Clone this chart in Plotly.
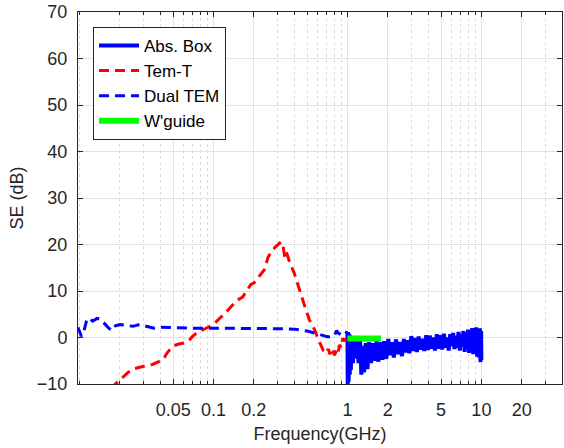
import plotly.graph_objects as go

# ---------------- data ----------------
abs_f = [1.00, 1.005, 1.01, 1.02, 1.03, 1.04, 1.05, 1.06, 1.08, 1.10, 1.12, 1.15, 1.18, 1.21,
         1.24, 1.27, 1.30, 1.33, 1.37, 1.41, 1.45, 1.50, 1.55, 1.60, 1.65, 1.70, 1.76, 1.82,
         1.88, 1.95, 2.02, 2.08, 2.15, 2.22, 2.30, 2.38, 2.46, 2.55, 2.64, 2.72, 2.80, 2.90,
         3.00, 3.10, 3.20, 3.30, 3.40, 3.50, 3.62, 3.75, 3.88, 4.00, 4.12, 4.25, 4.38, 4.50,
         4.65, 4.80, 4.95, 5.10, 5.25, 5.40, 5.55, 5.70, 5.85, 6.00, 6.15, 6.30, 6.45, 6.60,
         6.75, 6.90, 7.05, 7.20, 7.35, 7.50, 7.65, 7.80, 7.95, 8.10, 8.25, 8.40, 8.55, 8.70,
         8.85, 9.00, 9.15, 9.30, 9.45, 9.60, 9.75, 9.85, 9.95, 10.0]
abs_v = [1.0, -11.0, 1.2, -9.5, 0.8, -8.0, 0.5, -7.0, 0.3, -5.5, 0.2, -4.5, -0.8, -5.5,
         -0.3, -8.0, -1.8, -7.5, -1.2, -6.8, -1.0, -5.5, -1.2, -5.0, -0.8, -5.2, -1.0, -4.8,
         -0.8, -4.6, -0.3, -3.8, -1.0, -4.3, -0.4, -3.6, -1.0, -4.0, -0.3, -3.2, -0.6, -3.4,
         0.3, -2.9, -0.1, -3.1, 0.2, -2.6, -0.3, -2.9, 0.5, -2.7, 0.4, -2.4, 0.0, -2.8,
         0.7, -2.4, 0.5, -2.6, 0.8, -2.2, 0.0, -2.8, 0.7, -1.9, 1.0, -2.5, 0.4, -2.2,
         1.2, -2.8, 0.7, -1.9, 1.4, -3.1, 1.0, -2.4, 1.7, -3.3, 1.2, -2.6, 2.0, -3.6,
         1.4, -3.3, 2.2, -4.1, 1.7, -4.3, 2.0, -5.3, 1.4, -4.8]

temt_f = [0.017, 0.0185, 0.021, 0.023, 0.025, 0.028, 0.031, 0.035, 0.039, 0.042, 0.045,
          0.050, 0.055, 0.060, 0.065, 0.070, 0.075, 0.080, 0.090, 0.100, 0.110, 0.120,
          0.135, 0.150, 0.165, 0.180, 0.190, 0.200, 0.220, 0.240, 0.255, 0.270, 0.290,
          0.310, 0.320, 0.330, 0.340, 0.350, 0.370, 0.400, 0.430, 0.460, 0.490, 0.520,
          0.570, 0.600, 0.630, 0.660, 0.690, 0.720, 0.740, 0.770, 0.800, 0.830, 0.850,
          0.870, 0.900, 0.920, 0.950, 0.980, 1.000]
temt_v = [-11.0, -10.0, -8.5, -7.5, -6.8, -6.4, -6.1, -5.8, -5.3, -4.8, -3.3,
          -1.8, -1.4, -1.2, -0.8, 0.3, 1.0, 1.4, 2.2, 2.8, 4.0, 5.0,
          6.6, 8.0, 8.7, 10.5, 11.4, 11.7, 13.3, 14.6, 17.2, 18.5, 19.5,
          20.3, 20.6, 19.8, 17.3, 18.4, 16.2, 13.9, 11.0, 8.0, 5.9, 3.8,
          1.6, -0.1, -1.4, -2.8, -3.4, -2.5, -3.6, -2.3, -3.8, -2.8, -3.5,
          -1.6, -2.2, -0.2, -0.8, 0.5, 1.0]

dual_f = [0.0097, 0.0103, 0.0108, 0.0113, 0.0118, 0.0125, 0.0135, 0.0142, 0.0150, 0.0165,
          0.0175, 0.0185, 0.020, 0.022, 0.025, 0.028, 0.032, 0.036, 0.040, 0.050, 0.070,
          0.100, 0.150, 0.200, 0.300, 0.400, 0.500, 0.600, 0.650, 0.700, 0.750, 0.800,
          0.830, 0.860, 0.900, 0.950, 1.000]
dual_v = [2.2, 0.3, 1.5, 3.8, 4.2, 3.5, 4.1, 4.0, 3.3, 2.0,
          1.5, 2.5, 2.8, 2.6, 2.4, 2.8, 2.3, 2.0, 2.2, 2.1, 2.0,
          2.0, 2.0, 1.9, 1.9, 1.8, 1.4, 0.8, 0.4, 0.2, 0.1, 0.4,
          1.5, 0.9, 0.6, 1.3, 1.0]

wg_f = [1.0, 1.78]
wg_v = [-0.2, -0.2]

x_tickvals = [0.05, 0.1, 0.2, 1, 2, 5, 10, 20]
x_ticktext = ["0.05", "0.1", "0.2", "1", "2", "5", "10", "20"]
y_tickvals = [-10, 0, 10, 20, 30, 40, 50, 60, 70]

# ---------------- figure ----------------
FONT = "Liberation Sans, Arial, Helvetica, sans-serif"
TXT = "#262626"
GRID = "#e3e3e3"

fig = go.Figure()
fig.add_trace(go.Scatter(x=abs_f, y=abs_v, mode="lines", name="Abs. Box",
                         line=dict(color="#0000ff", width=4)))
fig.add_trace(go.Scatter(x=temt_f, y=temt_v, mode="lines", name="Tem-T",
                         line=dict(color="#ff0000", width=3, dash="10px,6px")))
fig.add_trace(go.Scatter(x=dual_f, y=dual_v, mode="lines", name="Dual TEM",
                         line=dict(color="#0000ff", width=3, dash="10px,6px")))
fig.add_trace(go.Scatter(x=wg_f, y=wg_v, mode="lines", name="W'guide",
                         line=dict(color="#00ff00", width=6)))

minor_vals = []
for dec in [0.01, 0.1, 1, 10]:
    for k in range(1, 10):
        v = round(k * dec, 6)
        if v <= 40 and v not in x_tickvals:
            minor_vals.append(v)

fig.update_layout(
    width=564, height=448,
    margin=dict(l=78, r=2, t=12, b=64, autoexpand=False),
    paper_bgcolor="white", plot_bgcolor="white",
    font=dict(family=FONT, size=18, color=TXT),
    showlegend=True,
    legend=dict(x=0.031, y=0.96, xanchor="left", yanchor="top",
                bgcolor="white", bordercolor=TXT, borderwidth=1,
                font=dict(family=FONT, size=17, color="#000000"),
                tracegroupgap=0, itemwidth=40),
    xaxis=dict(type="log", range=[-2.012, 1.602], automargin=False,
               tickmode="array", tickvals=x_tickvals, ticktext=x_ticktext,
               ticks="inside", ticklen=5, tickcolor=TXT,
               showline=True, linecolor=TXT, linewidth=1, mirror="ticks",
               showgrid=True, gridcolor=GRID, gridwidth=1,
               zeroline=False, ticklabelstandoff=9,
               tickfont=dict(size=18, color=TXT),
               minor=dict(tickmode="array", tickvals=minor_vals, ticks="inside",
                          ticklen=3, tickcolor=TXT, showgrid=True,
                          gridcolor="#dcdcdc", griddash="dot", gridwidth=1),
               title=dict(text="Frequency(GHz)", font=dict(size=18, color=TXT), standoff=8)),
    yaxis=dict(range=[-10, 70], tickmode="array", tickvals=y_tickvals, automargin=False,
               ticks="inside", ticklen=5, tickcolor=TXT,
               showline=True, linecolor=TXT, linewidth=1, mirror="ticks",
               showgrid=True, gridcolor=GRID, gridwidth=1,
               zeroline=False, ticklabelstandoff=6,
               tickfont=dict(size=18, color=TXT),
               title=dict(text="SE (dB)", font=dict(size=18, color=TXT), standoff=8)),
)

fig.write_html("out.html",
               config={"displayModeBar": False},
               post_script="document.body.style.margin='0';document.body.style.overflow='hidden';")
